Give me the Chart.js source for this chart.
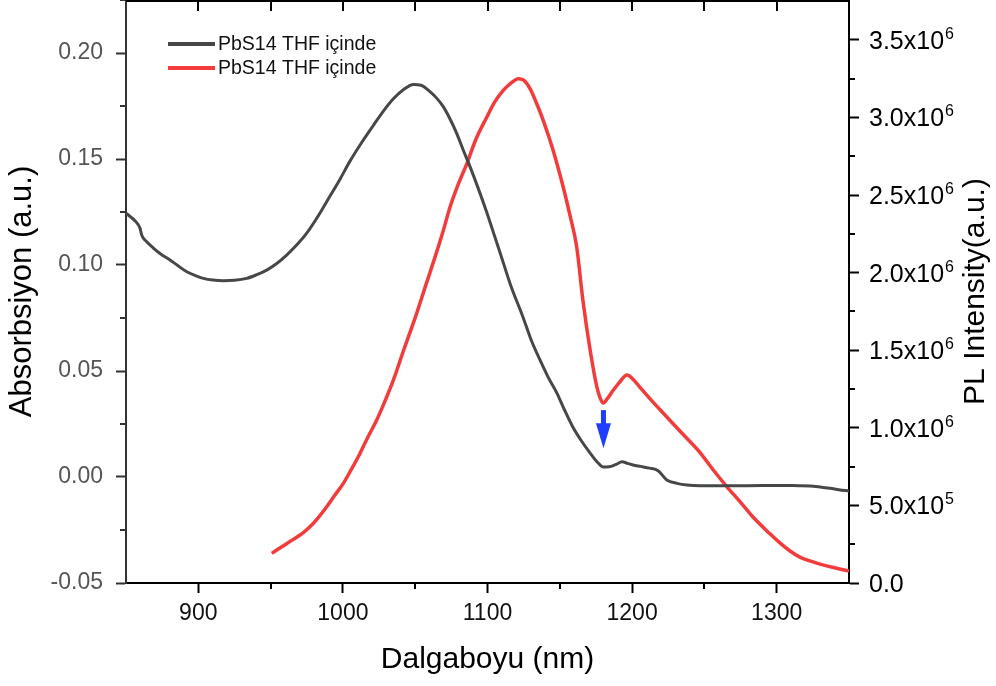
<!DOCTYPE html>
<html>
<head>
<meta charset="utf-8">
<script src="https://cdn.jsdelivr.net/npm/chart.js@4.4.0/dist/chart.umd.min.js"></script>
<style>
  html, body { margin: 0; padding: 0; background: #fff; }
</style>
</head>
<body>
<canvas id="chart" width="996" height="686"></canvas>
<script>
// absorbance (left axis)
const absWavelength = [850, 853, 856, 859.7, 860.9, 864, 868.9, 874, 880.4, 886, 892, 898, 903.5, 910, 917.3, 925, 933.5, 940, 947.3, 954, 961.1, 968, 975, 983, 991.1, 998, 1004.9, 1013, 1021, 1028, 1034.9, 1042, 1048.7, 1054, 1060.2, 1065, 1069.4, 1074, 1078.7, 1083, 1087.9, 1093.4, 1099.4, 1104, 1108.7, 1116, 1124.5, 1130, 1136.3, 1142, 1148, 1153, 1159, 1165, 1171, 1176, 1180, 1184, 1189, 1193, 1197, 1200.6, 1206, 1212, 1218, 1224, 1231, 1238, 1247, 1260, 1280, 1300, 1315, 1323, 1331, 1337, 1343, 1350];
const absValues = [0.1245, 0.1228, 0.1210, 0.1173, 0.1140, 0.1112, 0.1080, 0.1052, 0.1024, 0.0996, 0.0968, 0.0950, 0.0937, 0.0929, 0.0926, 0.0928, 0.0937, 0.0953, 0.0976, 0.1006, 0.1047, 0.1094, 0.1150, 0.1232, 0.1325, 0.1405, 0.1490, 0.1578, 0.1658, 0.1726, 0.1784, 0.1828, 0.1852, 0.1848, 0.1818, 0.1786, 0.1747, 0.1690, 0.1621, 0.1546, 0.1464, 0.1365, 0.1250, 0.1155, 0.1058, 0.0905, 0.0755, 0.0650, 0.0552, 0.0470, 0.0396, 0.0320, 0.0236, 0.0170, 0.0113, 0.0070, 0.0047, 0.0048, 0.0060, 0.0072, 0.0064, 0.0057, 0.0050, 0.0042, 0.0030, -0.0014, -0.0030, -0.0038, -0.0041, -0.0041, -0.0041, -0.0040, -0.0041, -0.0042, -0.0048, -0.0053, -0.0060, -0.0066];

// photoluminescence (right axis)
const plWavelength = [950.8, 958, 965.7, 972, 977.2, 983, 988.8, 994, 1000.3, 1006, 1011.8, 1017, 1023.4, 1029, 1034.9, 1042, 1050, 1057, 1063.7, 1069.4, 1074, 1080, 1085.6, 1092, 1099.4, 1105, 1110.9, 1116, 1121.3, 1125, 1129.4, 1134, 1138.6, 1145, 1152.4, 1157, 1161.7, 1166, 1171, 1175.7, 1178, 1180, 1183, 1186.8, 1191, 1196.5, 1201, 1205.5, 1214, 1224, 1235, 1247, 1256, 1265.6, 1275, 1283.6, 1295, 1302, 1309, 1316, 1323, 1330, 1340, 1350];
const plValues = [1.91e5, 2.35e5, 2.81e5, 3.20e5, 3.62e5, 4.22e5, 4.91e5, 5.60e5, 6.42e5, 7.35e5, 8.35e5, 9.35e5, 1.05e6, 1.17e6, 1.307e6, 1.50e6, 1.71e6, 1.91e6, 2.10e6, 2.27e6, 2.42e6, 2.575e6, 2.70e6, 2.86e6, 3.00e6, 3.10e6, 3.175e6, 3.22e6, 3.25e6, 3.24e6, 3.186e6, 3.09e6, 2.98e6, 2.80e6, 2.55e6, 2.37e6, 2.166e6, 1.82e6, 1.50e6, 1.26e6, 1.19e6, 1.16e6, 1.19e6, 1.24e6, 1.29e6, 1.34e6, 1.31e6, 1.26e6, 1.17e6, 1.07e6, 9.6e5, 8.4e5, 7.3e5, 6.2e5, 5.2e5, 4.25e5, 3.2e5, 2.6e5, 2.08e5, 1.67e5, 1.42e5, 1.22e5, 9.8e4, 7.7e4];

const seriesLabels = ['PbS14 THF içinde', 'PbS14 THF içinde'];
const xTicks = [900, 1000, 1100, 1200, 1300];
const absTicks = [-0.05, 0, 0.05, 0.10, 0.15, 0.20];
const plTicks = [0, 5e5, 1e6, 1.5e6, 2e6, 2.5e6, 3e6, 3.5e6];

// arrow marking the dip: wavelength, start and tip on the PL axis
const arrowWavelength = 1180.2;
const arrowFrom = 1.114e6;
const arrowTo = 8.69e5;

const FONT = "'Liberation Sans', Arial, sans-serif";

function toPoints(xs, ys) {
    return xs.map((x, i) => ({ x: x, y: ys[i] }));
}

function plLabel(v) {
    if (v === 0) return { base: '0.0', exp: '' };
    const exp = Math.floor(Math.log10(v) + 1e-9);
    const mant = v / Math.pow(10, exp);
    return { base: mant.toFixed(1) + 'x10', exp: String(exp) };
}

const extras = {
    id: 'extras',
    afterDraw(chart) {
        const ctx = chart.ctx;
        const area = chart.chartArea;
        const x = chart.scales.x;
        const yAbs = chart.scales.yAbs;
        const yPL = chart.scales.yPL;

        ctx.save();
        // top frame line
        ctx.strokeStyle = '#000';
        ctx.lineWidth = 2;
        ctx.beginPath();
        ctx.moveTo(area.left, area.top + 1);
        ctx.lineTo(area.right, area.top + 1);
        ctx.stroke();

        // top ticks (inward) and bottom minor ticks
        for (let v = 900; v <= 1300; v += 50) {
            const px = Math.round(x.getPixelForValue(v));
            ctx.beginPath();
            ctx.moveTo(px, area.top);
            ctx.lineTo(px, area.top + 11);
            ctx.stroke();
            if (v % 100 !== 0) {
                ctx.beginPath();
                ctx.moveTo(px, area.bottom);
                ctx.lineTo(px, area.bottom + 6);
                ctx.stroke();
            }
        }
        // left minor ticks
        ctx.strokeStyle = '#333';
        for (let v = -0.025; v < 0.225; v += 0.05) {
            const py = Math.round(yAbs.getPixelForValue(v));
            ctx.beginPath();
            ctx.moveTo(area.left, py);
            ctx.lineTo(area.left - 6, py);
            ctx.stroke();
        }
        // right minor ticks
        ctx.strokeStyle = '#000';
        for (let v = 2.5e5; v < 3.75e6; v += 5e5) {
            const py = Math.round(yPL.getPixelForValue(v));
            ctx.beginPath();
            ctx.moveTo(area.right, py);
            ctx.lineTo(area.right + 6, py);
            ctx.stroke();
        }

        // right tick labels with superscript exponents
        ctx.fillStyle = '#000';
        plTicks.forEach(v => {
            const py = yPL.getPixelForValue(v);
            const lab = plLabel(v);
            ctx.font = '25px ' + FONT;
            ctx.textAlign = 'left';
            ctx.textBaseline = 'alphabetic';
            ctx.fillText(lab.base, area.right + 20, py + 9);
            if (lab.exp) {
                const w = ctx.measureText(lab.base).width;
                ctx.font = '16px ' + FONT;
                ctx.fillText(lab.exp, area.right + 20 + w + 1, py - 1);
            }
        });

        // right axis title, reading bottom to top
        ctx.save();
        ctx.translate(976, (area.top + area.bottom) / 2);
        ctx.rotate(-Math.PI / 2);
        ctx.font = '30px ' + FONT;
        ctx.textAlign = 'center';
        ctx.textBaseline = 'middle';
        ctx.fillStyle = '#000';
        ctx.fillText('PL Intensity(a.u.)', 0, 0);
        ctx.restore();

        // legend
        chart.data.datasets.forEach((ds, i) => {
            const ly = 44 + i * 24;
            ctx.strokeStyle = ds.borderColor;
            ctx.lineWidth = 4;
            ctx.beginPath();
            ctx.moveTo(168, ly);
            ctx.lineTo(215, ly);
            ctx.stroke();
            ctx.fillStyle = '#111';
            ctx.font = '19.5px ' + FONT;
            ctx.textAlign = 'left';
            ctx.textBaseline = 'middle';
            ctx.fillText(ds.label, 218, ly + 1);
        });

        // blue arrow
        const ax = x.getPixelForValue(arrowWavelength);
        const a1 = yPL.getPixelForValue(arrowFrom);
        const a2 = yPL.getPixelForValue(arrowTo);
        ctx.fillStyle = '#1f3cff';
        ctx.fillRect(ax - 2.5, a1, 5, (a2 - a1) - 22);
        ctx.beginPath();
        ctx.moveTo(ax - 7.5, a2 - 25);
        ctx.lineTo(ax + 7.5, a2 - 25);
        ctx.lineTo(ax, a2);
        ctx.closePath();
        ctx.fill();

        ctx.restore();
    }
};

const ctx = document.getElementById('chart').getContext('2d');
new Chart(ctx, {
    type: 'line',
    data: {
        datasets: [
            {
                label: seriesLabels[0],
                data: toPoints(absWavelength, absValues),
                borderColor: '#474747',
                borderWidth: 3,
                pointRadius: 0,
                cubicInterpolationMode: 'monotone',
                yAxisID: 'yAbs'
            },
            {
                label: seriesLabels[1],
                data: toPoints(plWavelength, plValues),
                borderColor: '#f23b3b',
                borderWidth: 3.5,
                pointRadius: 0,
                cubicInterpolationMode: 'monotone',
                yAxisID: 'yPL'
            }
        ]
    },
    options: {
        responsive: false,
        animation: false,
        devicePixelRatio: 1,
        layout: { padding: 0 },
        plugins: {
            legend: { display: false },
            tooltip: { enabled: false }
        },
        scales: {
            x: {
                type: 'linear',
                position: 'bottom',
                min: 850,
                max: 1350,
                afterBuildTicks: s => { s.ticks = xTicks.map(v => ({ value: v })); },
                afterFit: s => { s.height = 103; s.paddingLeft = 0; s.paddingRight = 0; },
                ticks: {
                    autoSkip: false,
                    maxRotation: 0,
                    padding: 7,
                    color: '#111',
                    font: { family: FONT, size: 23 },
                    callback: v => String(v)
                },
                grid: { drawOnChartArea: false, tickLength: 10, tickWidth: 2, tickColor: '#000' },
                border: { color: '#000', width: 2 },
                title: {
                    display: true,
                    text: 'Dalgaboyu (nm)',
                    color: '#000',
                    font: { family: FONT, size: 30 },
                    padding: { top: 0, bottom: 8 }
                }
            },
            yAbs: {
                type: 'linear',
                position: 'left',
                min: -0.05,
                max: 0.225,
                afterBuildTicks: s => { s.ticks = absTicks.map(v => ({ value: v })); },
                afterFit: s => { s.width = 126; s.paddingTop = 0; s.paddingBottom = 0; },
                ticks: {
                    autoSkip: false,
                    padding: 13,
                    color: '#555',
                    font: { family: FONT, size: 23 },
                    callback: v => v.toFixed(2)
                },
                grid: { drawOnChartArea: false, tickLength: 10, tickWidth: 2, tickColor: '#333' },
                border: { color: '#333', width: 2 },
                title: {
                    display: true,
                    text: 'Absorbsiyon (a.u.)',
                    color: '#000',
                    font: { family: FONT, size: 31 },
                    padding: { top: 4, bottom: 0 }
                }
            },
            yPL: {
                type: 'linear',
                position: 'right',
                min: 0,
                max: 3.757e6,
                afterBuildTicks: s => { s.ticks = plTicks.map(v => ({ value: v })); },
                afterFit: s => { s.width = 147; s.paddingTop = 0; s.paddingBottom = 0; },
                ticks: {
                    autoSkip: false,
                    padding: 10,
                    color: 'rgba(0,0,0,0)',
                    font: { family: FONT, size: 23 },
                    callback: v => plLabel(v).base
                },
                grid: { drawOnChartArea: false, tickLength: 10, tickWidth: 2, tickColor: '#000' },
                border: { color: '#000', width: 2 }
            }
        }
    },
    plugins: [extras]
});
</script>
</body>
</html>
